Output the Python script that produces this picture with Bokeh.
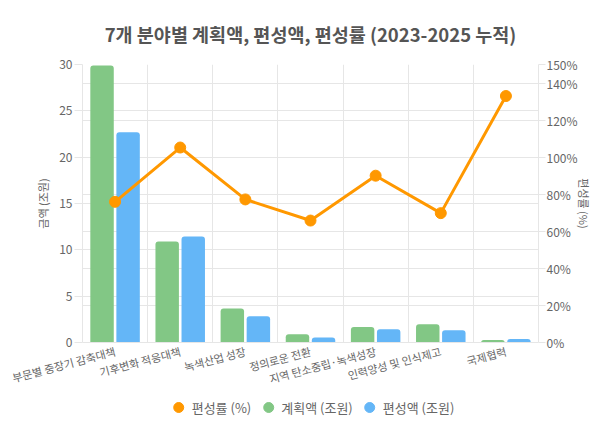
from bokeh.plotting import figure
from bokeh.layouts import column
from bokeh.models import (Range1d, FactorRange, LinearAxis, FixedTicker, PrintfTickFormatter,
                          Legend, LegendItem, Grid, ColumnDataSource)
from bokeh.transform import dodge
from bokeh.embed import file_html
from bokeh.resources import INLINE

categories = ["부문별 중장기 감축대책", "기후변화 적응대책", "녹색산업 성장", "정의로운 전환",
              "지역 탄소중립·녹색성장", "인력양성 및 인식제고", "국제협력"]
planned = [29.9, 10.9, 3.68, 0.88, 1.68, 1.97, 0.28]      # 계획액 (조원)
allocated = [22.7, 11.45, 2.84, 0.53, 1.44, 1.33, 0.38]   # 편성액 (조원)
rate = [75.9, 105.2, 77.2, 65.8, 90.0, 69.8, 133.0]       # 편성률 (%)
left_ticks = [0, 5, 10, 15, 20, 25, 30]
right_ticks = [0, 20, 40, 60, 80, 100, 120, 140, 150]
series_names = ["편성률 (%)", "계획액 (조원)", "편성액 (조원)"]

FONT = "Noto Sans CJK KR"
GRID = "#e6e6e6"
TXT = "#666666"
GREEN = "#82c785"
BLUE = "#64b6f7"
ORANGE = "#FF9800"

src = ColumnDataSource(dict(cat=categories, planned=planned, allocated=allocated, rate=rate))

p = figure(width=594, height=397, output_backend="svg", toolbar_location=None,
           x_range=FactorRange(*categories, range_padding=0), y_range=Range1d(0, 30),
           min_border_left=82, min_border_right=52, min_border_top=59, min_border_bottom=54,
           background_fill_color="white", border_fill_color="white")
p.outline_line_color = None
p.extra_y_ranges = {"pct": Range1d(0, 150)}

p.title.text = "7개 분야별 계획액, 편성액, 편성률 (2023-2025 누적)"
p.title.align = "center"
p.title.text_font = FONT
p.title.text_font_size = "18.5px"
p.title.text_font_style = "bold"
p.title.text_color = "#555555"
p.title.standoff = 36

# grids
p.xgrid.grid_line_color = None
p.ygrid.ticker = FixedTicker(ticks=left_ticks)
p.ygrid.grid_line_color = GRID
p.add_layout(Grid(dimension=1, ticker=FixedTicker(ticks=right_ticks), y_range_name="pct",
                  grid_line_color=GRID))
p.add_layout(Grid(dimension=0, ticker=FixedTicker(ticks=list(range(len(categories) + 1))),
                  grid_line_color=GRID, bounds=(-0.85, 30)))

# bars
p.vbar(x=dodge("cat", -0.2, range=p.x_range), top="planned", width=0.36, source=src,
       fill_color=GREEN, line_color=None, border_radius=(3, 3, 0, 0))
p.vbar(x=dodge("cat", 0.2, range=p.x_range), top="allocated", width=0.36, source=src,
       fill_color=BLUE, line_color=None, border_radius=(3, 3, 0, 0))

# line
p.line(x="cat", y="rate", source=src, y_range_name="pct", line_color=ORANGE, line_width=3)
p.scatter(x="cat", y="rate", source=src, y_range_name="pct", size=11,
          fill_color=ORANGE, line_color=ORANGE)

# axes
ax = p.xaxis[0]
ax.major_label_orientation = 0.26
ax.major_label_text_font = FONT
ax.major_label_text_font_size = "11px"
ax.major_label_text_color = TXT
ax.major_tick_line_color = None
ax.axis_line_color = GRID
ax.major_label_standoff = 2

ay = p.yaxis[0]
ay.ticker = FixedTicker(ticks=left_ticks)
ay.axis_label = "금액 (조원)"
ay.axis_label_text_font = FONT
ay.axis_label_text_font_size = "11px"
ay.axis_label_text_font_style = "normal"
ay.axis_label_text_color = TXT
ay.axis_label_standoff = 5
ay.major_label_text_font = FONT
ay.major_label_text_font_size = "12px"
ay.major_label_text_color = TXT
ay.major_label_standoff = 2
ay.major_tick_out = 8
ay.major_tick_in = 0
ay.major_tick_line_color = GRID
ay.minor_tick_line_color = None
ay.axis_line_color = GRID

ar = LinearAxis(y_range_name="pct", ticker=FixedTicker(ticks=right_ticks),
                formatter=PrintfTickFormatter(format="%d%%"))
ar.axis_label = "편성률 (%)"
ar.axis_label_text_font = FONT
ar.axis_label_text_font_size = "11px"
ar.axis_label_text_font_style = "normal"
ar.axis_label_text_color = TXT
ar.axis_label_standoff = -5
ar.major_label_text_font = FONT
ar.major_label_text_font_size = "12px"
ar.major_label_text_color = TXT
ar.major_label_standoff = 1
ar.major_tick_out = 7
ar.major_tick_in = 0
ar.major_tick_line_color = GRID
ar.minor_tick_line_color = None
ar.axis_line_color = GRID
p.add_layout(ar, "right")

# legend strip (separate small figure, glyphs with no y value so only the legend shows them)
lf = figure(width=594, height=20, output_backend="svg", toolbar_location=None,
            x_range=Range1d(0, 1), y_range=Range1d(0, 1),
            x_axis_location=None, y_axis_location=None,
            min_border_left=0, min_border_right=0, min_border_top=0, min_border_bottom=0,
            background_fill_color="white", border_fill_color="white")
lf.outline_line_color = None
lf.grid.grid_line_color = None
legend_renderers = [lf.scatter(x=[0.5], y=[float("nan")], size=11, fill_color=c, line_color=c)
                    for c in (ORANGE, GREEN, BLUE)]
legend = Legend(items=[LegendItem(label=n, renderers=[r])
                       for n, r in zip(series_names, legend_renderers)],
                orientation="horizontal", location="center",
                label_text_font=FONT, label_text_font_size="13px", label_text_color=TXT,
                glyph_width=25, glyph_height=25, label_standoff=1, spacing=4,
                padding=0, margin=0, border_line_color=None, background_fill_alpha=0)
lf.add_layout(legend, "center")

open("out.html", "w").write(file_html(column(p, lf, spacing=0), INLINE))
